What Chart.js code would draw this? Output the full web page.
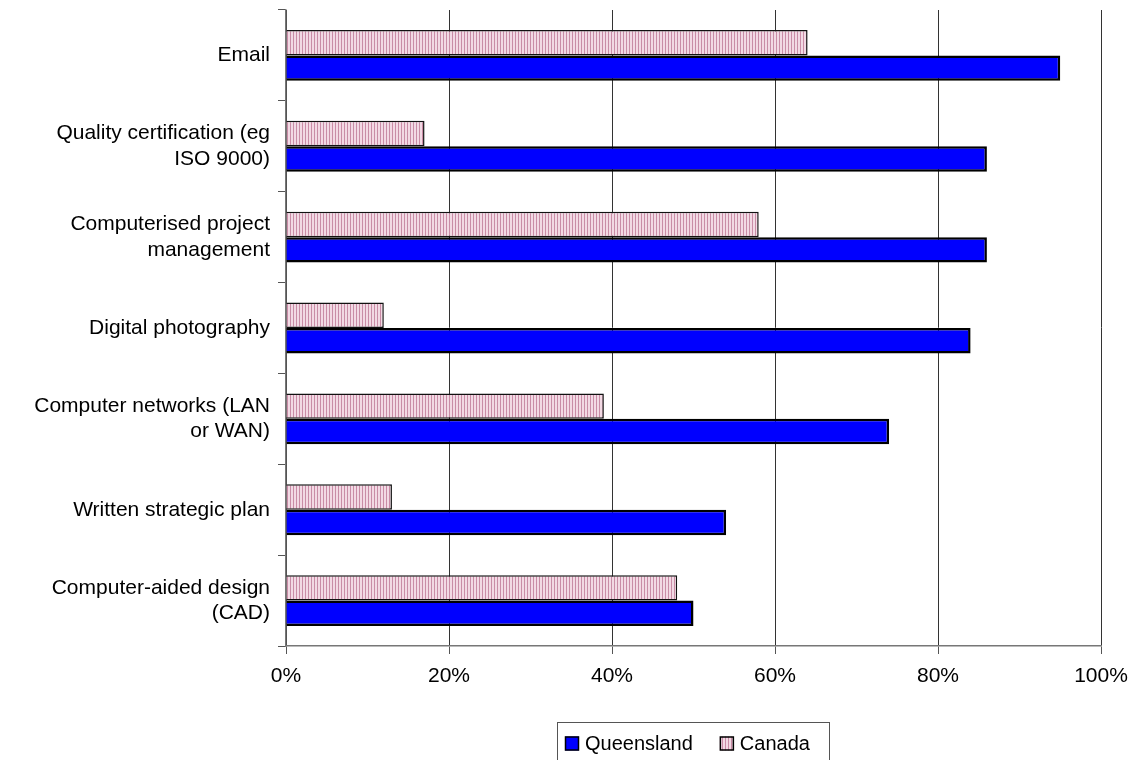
<!DOCTYPE html>
<html>
<head>
<meta charset="utf-8">
<script src="https://cdn.jsdelivr.net/npm/chart.js@4/dist/chart.umd.min.js"></script>
<style>
html,body{margin:0;padding:0;background:#fff;}
#wrap{width:1140px;height:760px;position:relative;}
</style>
</head>
<body>
<div id="wrap"><canvas id="c" width="1140" height="760"></canvas></div>
<script>
const categories = [
  "Email",
  ["Quality certification (eg", "ISO 9000)"],
  ["Computerised project", "management"],
  "Digital photography",
  ["Computer networks (LAN", "or WAN)"],
  "Written strategic plan",
  ["Computer-aided design", "(CAD)"]
];
const queensland = [95, 86, 86, 84, 74, 54, 50];
const canada = [64, 17, 58, 12, 39, 13, 48];
const xTicks = [0, 20, 40, 60, 80, 100];

function makePattern() {
  const p = document.createElement('canvas');
  p.width = 3; p.height = 4;
  const g = p.getContext('2d');
  g.fillStyle = '#f2d9e4';
  g.fillRect(0, 0, 3, 4);
  g.fillStyle = '#c98ca6';
  g.fillRect(2, 0, 1, 4);
  return g.createPattern(p, 'repeat');
}
const pinkPattern = makePattern();

const legendPlugin = {
  id: 'boxLegend',
  afterDraw(chart) {
    const ctx = chart.ctx;
    ctx.save();
    ctx.strokeStyle = '#555';
    ctx.lineWidth = 1;
    ctx.strokeRect(557.5, 722.5, 272, 50);
    ctx.font = '20px "Liberation Sans", Arial, sans-serif';
    ctx.textBaseline = 'middle';
    const items = [chart.data.datasets[1], chart.data.datasets[0]];
    let x = 565;
    const y = 743.5;
    items.forEach(ds => {
      ctx.fillStyle = ds.backgroundColor;
      ctx.fillRect(x, y - 7, 14, 14);
      ctx.strokeStyle = '#000';
      ctx.lineWidth = 1.5;
      ctx.strokeRect(x + 0.5, y - 6.5, 13, 13);
      ctx.fillStyle = '#000';
      ctx.fillText(ds.label, x + 20, y + 1);
      x += 20 + ctx.measureText(ds.label).width + 27;
    });
    ctx.restore();
  }
};

new Chart(document.getElementById('c'), {
  type: 'bar',
  data: {
    labels: categories,
    datasets: [
      {
        label: 'Canada',
        data: canada,
        backgroundColor: pinkPattern,
        borderColor: '#111',
        borderWidth: 1.5,
        categoryPercentage: 0.56,
        barPercentage: 1.0
      },
      {
        label: 'Queensland',
        data: queensland,
        backgroundColor: '#0000ff',
        borderColor: '#000',
        borderWidth: 2.5,
        categoryPercentage: 0.56,
        barPercentage: 1.0
      }
    ]
  },
  options: {
    indexAxis: 'y',
    responsive: false,
    animation: false,
    devicePixelRatio: 1,
    layout: { padding: { top: 10, right: 39, bottom: 64, left: 0 } },
    plugins: {
      legend: { display: false },
      tooltip: { enabled: false }
    },
    scales: {
      x: {
        min: 0, max: 100,
        afterBuildTicks(scale) { scale.ticks = xTicks.map(v => ({ value: v })); },
        afterFit(scale) { scale.height = 50; scale.paddingLeft = 0; scale.paddingRight = 0; },
        ticks: {
          callback: v => v + '%',
          color: '#000',
          font: { family: '"Liberation Sans", Arial, sans-serif', size: 21 },
          padding: 10,
          maxRotation: 0
        },
        grid: { color: '#333', lineWidth: 1, drawTicks: true, tickLength: 8, tickColor: '#555' },
        border: { color: '#777', width: 1.5 }
      },
      y: {
        afterFit(scale) { scale.width = 286; scale.paddingTop = 0; scale.paddingBottom = 0; },
        ticks: {
          color: '#000',
          font: { family: '"Liberation Sans", Arial, sans-serif', size: 21, lineHeight: 1.2 },
          padding: 8,
          autoSkip: false
        },
        grid: { drawOnChartArea: false, drawTicks: true, tickLength: 8, color: '#555', offset: true },
        border: { color: '#777', width: 1.5 }
      }
    }
  },
  plugins: [legendPlugin]
});
</script>
</body>
</html>
